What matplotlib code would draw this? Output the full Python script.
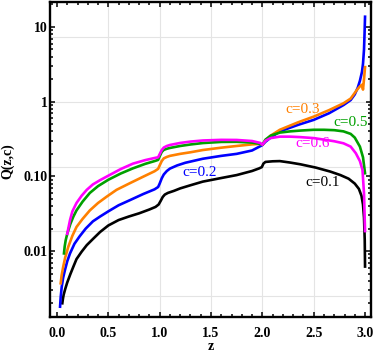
import numpy as np
import matplotlib
matplotlib.use('Agg')
import matplotlib.pyplot as plt
from matplotlib.ticker import LogLocator, MultipleLocator, NullFormatter

# values
z_c01 = [0.052, 0.058, 0.065, 0.08, 0.10, 0.13, 0.16, 0.19, 0.24, 0.29, 0.35, 0.42, 0.50, 0.60,
         0.70, 0.80, 0.90, 0.96, 0.99, 1.01, 1.03, 1.05, 1.08, 1.14, 1.20, 1.30, 1.42, 1.60,
         1.75, 1.90, 1.97, 1.995, 2.01, 2.03, 2.10, 2.17, 2.27, 2.37, 2.52, 2.66, 2.76, 2.84,
         2.90, 2.94, 2.965, 2.98, 2.99, 2.997, 3.00]
q_c01 = [0.0020, 0.0023, 0.0026, 0.0031, 0.0038, 0.0049, 0.0062, 0.0078, 0.0098, 0.012,
         0.0145, 0.018, 0.022, 0.026, 0.029, 0.032, 0.036, 0.039, 0.042, 0.047, 0.053, 0.057,
         0.060, 0.064, 0.069, 0.076, 0.085, 0.095, 0.104, 0.118, 0.128, 0.133, 0.148, 0.156,
         0.159, 0.160, 0.153, 0.145, 0.131, 0.116, 0.104, 0.093, 0.080, 0.068, 0.055, 0.042,
         0.028, 0.014, 0.0062]

z_c02 = [0.03, 0.036, 0.046, 0.06, 0.078, 0.10, 0.127, 0.17, 0.22, 0.28, 0.35, 0.42, 0.50, 0.60,
         0.71, 0.84, 0.95, 0.985, 1.00, 1.02, 1.04, 1.07, 1.10, 1.17, 1.25, 1.42, 1.60, 1.75,
         1.90, 2.00, 2.03, 2.08, 2.17, 2.35, 2.50, 2.65, 2.79, 2.86, 2.90, 2.93, 2.95, 2.97,
         2.98, 2.99, 2.995, 3.00]
q_c02 = [0.0018, 0.0024, 0.0033, 0.0044, 0.0056, 0.0073, 0.0093, 0.0125, 0.0157, 0.020, 0.025,
         0.029, 0.034, 0.041, 0.048, 0.058, 0.067, 0.072, 0.080, 0.094, 0.106, 0.118, 0.127,
         0.140, 0.152, 0.172, 0.188, 0.200, 0.222, 0.262, 0.29, 0.33, 0.40, 0.49, 0.57, 0.70,
         0.90, 1.05, 1.25, 1.55, 1.90, 2.5, 3.2, 5.0, 8.0, 13.7]

z_c03 = [0.036, 0.045, 0.061, 0.08, 0.11, 0.15, 0.19, 0.25, 0.32, 0.40, 0.48, 0.58, 0.71, 0.84,
         0.95, 0.985, 1.00, 1.02, 1.04, 1.07, 1.10, 1.20, 1.30, 1.42, 1.60, 1.75, 1.90, 1.98,
         2.00, 2.03, 2.08, 2.17, 2.35, 2.50, 2.65, 2.79, 2.86, 2.92, 2.95, 2.97, 2.98, 2.99,
         3.00]
q_c03 = [0.0037, 0.0047, 0.0062, 0.0082, 0.0114, 0.016, 0.021, 0.027, 0.035, 0.044, 0.053,
         0.066, 0.081, 0.099, 0.117, 0.126, 0.140, 0.160, 0.174, 0.182, 0.188, 0.200, 0.210,
         0.225, 0.242, 0.255, 0.268, 0.272, 0.264, 0.30, 0.35, 0.42, 0.53, 0.63, 0.77, 0.95,
         1.10, 1.43, 1.60, 1.68, 1.45, 2.0, 2.9]

z_c05 = [0.068, 0.075, 0.085, 0.10, 0.13, 0.16, 0.19, 0.25, 0.32, 0.40, 0.50, 0.62, 0.74, 0.86,
         0.95, 0.985, 1.00, 1.02, 1.04, 1.07, 1.10, 1.20, 1.30, 1.42, 1.60, 1.75, 1.90, 1.98,
         2.00, 2.03, 2.08, 2.17, 2.27, 2.37, 2.50, 2.60, 2.70, 2.79, 2.86, 2.90, 2.95, 2.98,
         3.00]
q_c05 = [0.0093, 0.0115, 0.014, 0.017, 0.023, 0.029, 0.035, 0.046, 0.060, 0.074, 0.090, 0.109,
         0.128, 0.147, 0.160, 0.166, 0.185, 0.212, 0.226, 0.234, 0.240, 0.255, 0.267, 0.279,
         0.289, 0.290, 0.283, 0.272, 0.265, 0.31, 0.35, 0.385, 0.40, 0.41, 0.42, 0.42, 0.415,
         0.40, 0.37, 0.33, 0.25, 0.18, 0.11]

z_c06 = [0.10, 0.11, 0.127, 0.15, 0.19, 0.24, 0.29, 0.35, 0.42, 0.50, 0.62, 0.74, 0.86, 0.95,
         0.985, 1.00, 1.02, 1.04, 1.07, 1.10, 1.20, 1.30, 1.42, 1.60, 1.75, 1.90, 1.98, 2.00,
         2.03, 2.08, 2.17, 2.27, 2.37, 2.50, 2.60, 2.70, 2.79, 2.86, 2.91, 2.95, 2.975, 2.99,
         3.00]
q_c06 = [0.017, 0.020, 0.026, 0.034, 0.044, 0.055, 0.066, 0.078, 0.089, 0.102, 0.125, 0.148,
         0.165, 0.176, 0.180, 0.198, 0.225, 0.243, 0.255, 0.263, 0.280, 0.292, 0.302, 0.308,
         0.307, 0.297, 0.280, 0.265, 0.30, 0.325, 0.34, 0.34, 0.335, 0.325, 0.31, 0.295, 0.277,
         0.25, 0.204, 0.16, 0.122, 0.059, 0.0185]

labels = ['c=0.1', 'c=0.2', 'c=0.3', 'c=0.5', 'c=0.6']
label_z = [2.59, 1.39, 2.39, 2.86, 2.49]
label_q = [0.082, 0.1135, 0.777, 0.53, 0.277]
colors = ['black', '#0000FF', '#FF8000', '#00A000', '#FF00FF']

serif = ['Liberation Serif', 'DejaVu Serif']

fig = plt.figure(figsize=(3.74, 3.58), dpi=100)
ax = fig.add_axes([50 / 374, 1 - 317 / 358, 321 / 374, 315.5 / 358])

# grid lines (log-spaced like the original)
for g in [0.5, 1.0, 1.5, 2.0, 2.5]:
    ax.axvline(g, color='#E4E4E4', lw=0.8, zorder=0)
for g in np.exp([-6, -4, -2, 0, 2]):
    ax.axhline(g, color='#E4E4E4', lw=0.8, zorder=0)

series = [(z_c01, q_c01), (z_c02, q_c02), (z_c03, q_c03), (z_c05, q_c05), (z_c06, q_c06)]
for (zz, qq), col in zip(series, colors):
    ax.plot(zz, qq, color=col, lw=1.9, solid_joinstyle='round')

for txt, lz, lq, col in zip(labels, label_z, label_q, colors):
    ax.text(lz, lq, txt, color=col, fontsize=11, family=serif, ha='center', va='center')

ax.set_yscale('log')
ax.set_xlim(-0.068, 3.058)
ax.set_ylim(0.00131, 21.9)

ax.set_xticks([0, 0.5, 1.0, 1.5, 2.0, 2.5, 3.0])
ax.set_xticklabels(['0.0', '0.5', '1.0', '1.5', '2.0', '2.5', '3.0'])
ax.xaxis.set_minor_locator(MultipleLocator(0.1))
ax.set_yticks([0.01, 0.1, 1, 10])
ax.set_yticklabels(['0.01', '0.10', '1', '10'])
ax.yaxis.set_minor_locator(LogLocator(base=10, subs=np.arange(2, 10)))
ax.yaxis.set_minor_formatter(NullFormatter())

ax.tick_params(which='both', direction='in', top=True, right=True, width=1.1, color='black')
ax.tick_params(which='major', length=3.8)
ax.tick_params(which='minor', length=2.2)
ax.tick_params(axis='x', pad=7)
ax.tick_params(axis='y', pad=1.5)
for lab in ax.get_xticklabels() + ax.get_yticklabels():
    lab.set_family(serif)
    lab.set_fontweight('bold')
    lab.set_fontsize(10)
for sp in ax.spines.values():
    sp.set_linewidth(1.7)

fig.text(8 / 374, 1 - 161.5 / 358, 'Q(z,c)', rotation=90, ha='center', va='center',
         family=serif, fontweight='bold', fontsize=10)
fig.text(211 / 374, 1 - 346 / 358, 'z', ha='center', va='center',
         family=serif, fontweight='bold', fontsize=10)

fig.savefig('out.png', dpi=100)
